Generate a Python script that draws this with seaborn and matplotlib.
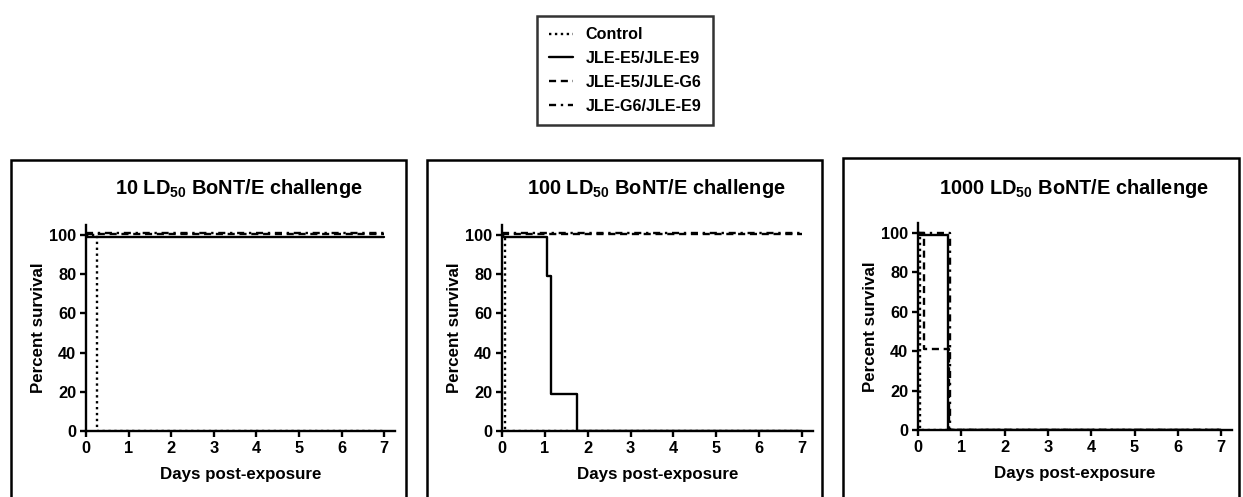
import pandas as pd
import matplotlib.pyplot as plt
import seaborn as sns
from matplotlib.patches import Rectangle

# Kaplan-Meier style survival curves
groups = ["Control", "JLE-E5/JLE-E9", "JLE-E5/JLE-G6", "JLE-G6/JLE-E9"]
titles = ["10", "100", "1000"]

# 10 LD50
days_10 = {
    "Control": [0, 0.25, 7],
    "JLE-E5/JLE-E9": [0, 7],
    "JLE-E5/JLE-G6": [0, 7],
    "JLE-G6/JLE-E9": [0, 7],
}
surv_10 = {
    "Control": [100, 0, 0],
    "JLE-E5/JLE-E9": [99, 99],
    "JLE-E5/JLE-G6": [100.5, 100.5],
    "JLE-G6/JLE-E9": [101, 101],
}

# 100 LD50
days_100 = {
    "Control": [0, 0.08, 7],
    "JLE-E5/JLE-E9": [0, 1.05, 1.15, 1.75, 7],
    "JLE-E5/JLE-G6": [0, 7],
    "JLE-G6/JLE-E9": [0, 7],
}
surv_100 = {
    "Control": [100, 0, 0],
    "JLE-E5/JLE-E9": [99, 79, 19, 0, 0],
    "JLE-E5/JLE-G6": [100.5, 100.5],
    "JLE-G6/JLE-E9": [101, 101],
}

# 1000 LD50
days_1000 = {
    "Control": [0, 0.05, 7],
    "JLE-E5/JLE-E9": [0, 0.7, 7],
    "JLE-E5/JLE-G6": [0, 0.15, 0.72, 7],
    "JLE-G6/JLE-E9": [0, 0.75, 7],
}
surv_1000 = {
    "Control": [100, 0, 0],
    "JLE-E5/JLE-E9": [99, 0, 0],
    "JLE-E5/JLE-G6": [100, 41, 0, 0],
    "JLE-G6/JLE-E9": [100, 0, 0],
}

panels = [(days_10, surv_10), (days_100, surv_100), (days_1000, surv_1000)]

sns.set_style("ticks")
plt.rcParams["font.family"] = ["Liberation Sans", "DejaVu Sans"]
plt.rcParams["font.weight"] = "bold"
plt.rcParams["mathtext.fontset"] = "custom"
plt.rcParams["mathtext.rm"] = "Liberation Sans:bold"
plt.rcParams["mathtext.default"] = "rm"
for k in ["text.color", "axes.labelcolor", "xtick.color", "ytick.color", "axes.edgecolor"]:
    plt.rcParams[k] = "black"

dash_map = {
    "Control": (1, 1.5),
    "JLE-E5/JLE-E9": "",
    "JLE-E5/JLE-G6": (3, 2),
    "JLE-G6/JLE-E9": (3, 2, 1, 2),
}
pal = {g: "black" for g in groups}

fig = plt.figure(figsize=(12.43, 4.97), dpi=100)
W, H = 1243, 497

ax_rects = [
    (86 / W, (H - 431) / H, 0.2485, 0.414),
    (502 / W, (H - 431) / H, 0.250, 0.414),
    (918 / W, (H - 430) / H, 0.2526, 0.416),
]
title_x = [239, 656, 1074]
boxes = [(11, 160, 406), (427, 160, 822), (843, 158, 1239)]

handles, labels = None, None
for i, ((dd, ss), rect) in enumerate(zip(panels, ax_rects)):
    rows = []
    for g in groups:
        for d, s in zip(dd[g], ss[g]):
            rows.append({"group": g, "day": d, "survival": s})
    df = pd.DataFrame(rows)
    ax = fig.add_axes(rect)
    sns.lineplot(data=df, x="day", y="survival", hue="group", style="group",
                 hue_order=groups, style_order=groups, palette=pal,
                 dashes=dash_map, drawstyle="steps-post", estimator=None,
                 sort=False, linewidth=1.7, ax=ax)
    if handles is None:
        handles, labels = ax.get_legend_handles_labels()
    ax.get_legend().remove()
    ax.set_xlim(0, 7.25)
    ax.set_ylim(0, 105)
    ax.set_xticks(range(0, 8))
    ax.set_yticks([0, 20, 40, 60, 80, 100])
    sns.despine(ax=ax)
    for sp in ["left", "bottom"]:
        ax.spines[sp].set_linewidth(1.7)
    ax.tick_params(width=1.7, length=4, labelsize=11.8, pad=3)
    for lab in ax.get_xticklabels() + ax.get_yticklabels():
        lab.set_fontweight("bold")
    ax.set_xlabel("Days post-exposure", fontsize=12.2, fontweight="bold", labelpad=8)
    ax.set_ylabel("Percent survival", fontsize=12.2, fontweight="bold", labelpad=2)
    fig.text(title_x[i] / W, 1 - 188 / H, f"{titles[i]} LD$_{{50}}$ BoNT/E challenge",
             ha="center", va="center", fontsize=14.4, fontweight="bold")
    x0, y0, x1 = boxes[i]
    fig.patches.append(Rectangle((x0 / W, -0.05), (x1 - x0) / W, 1 - y0 / H + 0.05,
                                 transform=fig.transFigure, fill=False,
                                 edgecolor="black", linewidth=1.8))

leg = fig.legend(handles, labels, loc="center", bbox_to_anchor=(625 / W, 1 - 70.5 / H),
                 frameon=True, fancybox=False, edgecolor="black",
                 handlelength=1.5, handletextpad=0.8, labelspacing=0.55,
                 borderpad=0.7, prop={"weight": "bold", "size": 11.6})
leg.get_frame().set_linewidth(1.8)

fig.savefig("out.png", dpi=100)
